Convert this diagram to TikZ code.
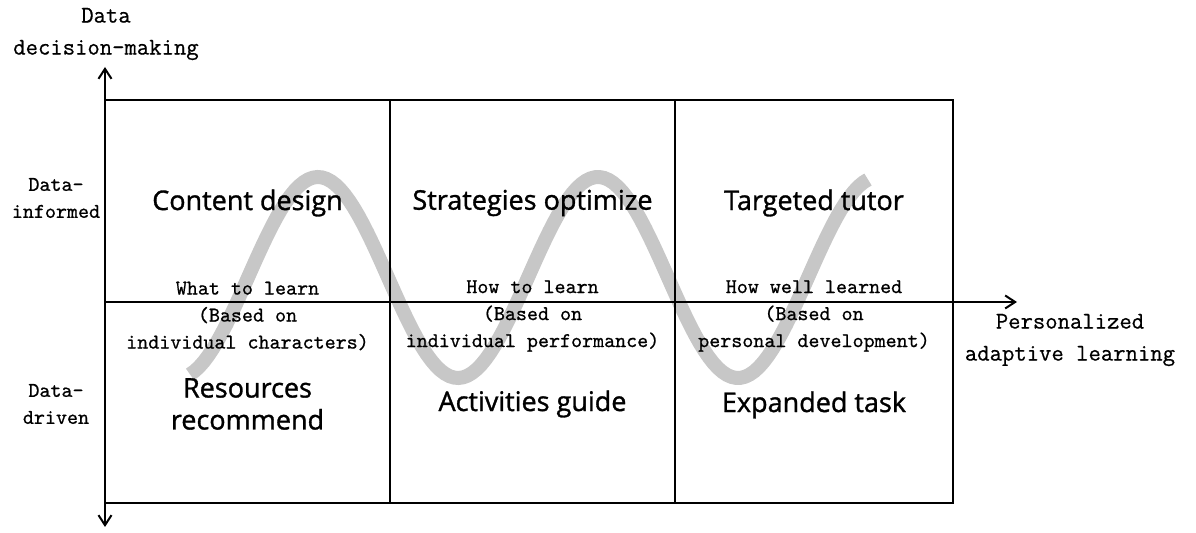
\documentclass[tikz,border=0pt]{standalone}
\usepackage{fontspec}
\setsansfont{Open Sans}[FakeBold=1.2]
\setmonofont{Latin Modern Mono}[FakeBold=0.7]
\usetikzlibrary{arrows.meta,positioning}
\tikzset{
  plgrid/.style={draw, line width=1pt},
  plaxis/.style={line width=1pt},
  pltip/.tip={Straight Barb[length=5pt, width=6.5pt]},
  plwave/.style={draw=black!22, line width=7pt},
  plhead/.style={font=\sffamily\fontsize{13.5}{16}\selectfont, align=center, inner sep=1pt},
  plnote/.style={font=\ttfamily\fontsize{10.5}{13.5}\selectfont, align=center, inner sep=1pt},
  pllabel/.style={font=\ttfamily\fontsize{12}{16}\selectfont, align=center, inner sep=1pt},
}

\begin{document}
\begin{tikzpicture}[x=0.5pt, y=-0.5pt]
  \useasboundingbox (0,0) rectangle (1196,533);

  % learning curve, kept under the grid
  \draw[plwave] plot[domain=190:868, samples=150]
    (\x, {277.5+100.5*cos((\x-178)/140*180)});

  % axes and cells
  \coordinate (o) at (105,302);
  \coordinate (ytop) at (105,67);
  \coordinate (ybot) at (105,527);
  \coordinate (xend) at (1017,302);
  \draw[plgrid] (105,100) rectangle (953,503);
  \draw[plgrid] (390,100) -- (390,503) (675,100) -- (675,503);
  \draw[plaxis, pltip-pltip] (ybot) -- (ytop);
  \draw[plaxis, -pltip] (o) -- (xend);

  % axis labels
  \node[pllabel] (ylab) at (106,34) {Data\\decision-making};
  \node[pllabel] (xlab) at (1070,340) {Personalized\\adaptive learning};
  \node[plnote] (informed) at (56,198) {Data-\\informed};
  \node[plnote] (driven) at (56,404) {Data-\\driven};

  % upper row
  \node[plhead] (content) at (247.5,203) {Content design};
  \node[plhead] (strategy) at (532.5,203) {Strategies optimize};
  \node[plhead] (tutor) at (814,203) {Targeted tutor};

  % what / how / how well
  \node[plnote] (what) at (247.5,316) {What to learn\\(Based on\\individual characters)};
  \node[plnote] (how) at (532.5,316) {How to learn\\(Based on\\individual performance)};
  \node[plnote] (howwell) at (814,316) {How well learned\\(Based on\\personal development)};

  % lower row
  \node[plhead] (resource) at (247.5,404) {Resources\\recommend};
  \node[plhead] (activity) at (532.5,404) {Activities guide};
  \node[plhead] (task) at (814,405) {Expanded task};
\end{tikzpicture}
\end{document}
